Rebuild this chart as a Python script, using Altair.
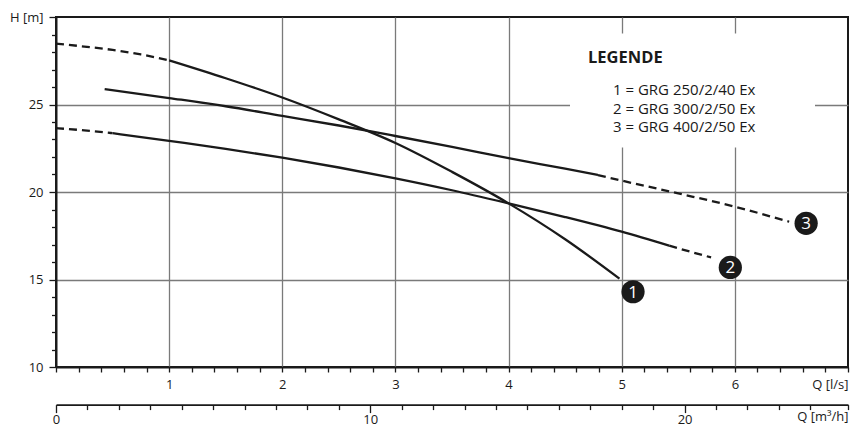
import altair as alt
import pandas as pd

# ---------------- data ----------------
# Curve 1: GRG 250/2/40 Ex
c1_dash_q = [0.0, 0.25, 0.5, 0.75, 1.0]
c1_dash_h = [28.48, 28.31, 28.12, 27.86, 27.52]
c1_solid_q = [1.0, 1.5, 2.0, 2.5, 3.0, 3.5, 4.0, 4.5, 4.98]
c1_solid_h = [27.52, 26.5, 25.4, 24.15, 22.8, 21.15, 19.35, 17.3, 15.05]

# Curve 2: GRG 300/2/50 Ex
c2_dash1_q = [0.0, 0.25, 0.5]
c2_dash1_h = [23.65, 23.52, 23.36]
c2_solid_q = [0.5, 1.0, 1.5, 2.0, 2.5, 3.0, 3.5, 4.0, 4.5, 5.0, 5.42]
c2_solid_h = [23.36, 22.92, 22.47, 21.96, 21.4, 20.78, 20.1, 19.35, 18.57, 17.73, 16.93]
c2_dash2_q = [5.42, 5.6, 5.79]
c2_dash2_h = [16.93, 16.6, 16.26]

# Curve 3: GRG 400/2/50 Ex
c3_solid_q = [0.43, 1.0, 1.5, 2.0, 2.5, 3.0, 3.5, 4.0, 4.5, 4.79]
c3_solid_h = [25.88, 25.37, 24.9, 24.35, 23.8, 23.2, 22.58, 21.93, 21.33, 20.97]
c3_dash_q = [4.79, 5.0, 5.5, 6.0, 6.48]
c3_dash_h = [20.97, 20.65, 19.92, 19.16, 18.3]

# numbered end markers
marker_q = [5.10, 5.96, 6.63]
marker_h = [14.3, 15.69, 18.21]
marker_labels = ["1", "2", "3"]

# axis ticks
lps_ticks = [round(i * 0.2, 1) for i in range(36)]          # 0 .. 7 l/s
m3h_ticks = list(range(0, 25)) + [25.2]                       # 0 .. 25.2 m3/h
h_ticks = list(range(10, 31))                                 # 10 .. 30 m

legend_title = "LEGENDE"
legend_lines = ["1 = GRG 250/2/40 Ex", "2 = GRG 300/2/50 Ex", "3 = GRG 400/2/50 Ex"]

# ---------------- build tables ----------------
segments = [
    ("c1d", "dash", c1_dash_q, c1_dash_h),
    ("c1s", "solid", c1_solid_q, c1_solid_h),
    ("c2d1", "dash", c2_dash1_q, c2_dash1_h),
    ("c2s", "solid", c2_solid_q, c2_solid_h),
    ("c2d2", "dash", c2_dash2_q, c2_dash2_h),
    ("c3s", "solid", c3_solid_q, c3_solid_h),
    ("c3d", "dash", c3_dash_q, c3_dash_h),
]
rows = []
for seg, style, qs, hs in segments:
    for i, (q, h) in enumerate(zip(qs, hs)):
        rows.append({"seg": seg, "style": style, "Q": q, "H": h, "o": i})
curves = pd.DataFrame(rows)
markers = pd.DataFrame({"Q": marker_q, "H": marker_h, "lab": marker_labels})

FONT = "Open Sans"
INK = "#1a1a1a"
GRID = "#7a7a7a"

x_axis = alt.Axis(
    title=None,
    values=lps_ticks,
    labelExpr="datum.value === 7 ? 'Q [l/s]' : (datum.value % 1 === 0 && datum.value > 0 ? '' + datum.value : '')",
    labelAlign={"condition": {"test": "datum.value === 7", "value": "right"}, "value": "center"},
    labelOverlap=False,
    labelFlush=False,
    labelPadding=6,
    tickSize=5,
    grid=True,
    gridOpacity={"condition": {"test": "datum.value % 1 === 0 && datum.value > 0 && datum.value < 7", "value": 1}, "value": 0},
)
y_axis = alt.Axis(
    title=None,
    values=h_ticks,
    labelExpr="datum.value === 30 ? 'H [m]' : (datum.value % 5 === 0 ? '' + datum.value : '')",
    labelOverlap=False,
    labelFlush=False,
    labelPadding=6,
    tickSize={"condition": {"test": "datum.value % 5 === 0", "value": 7}, "value": 4.5},
    grid=True,
    gridOpacity={"condition": {"test": "datum.value % 5 === 0 && datum.value > 10 && datum.value < 30", "value": 1}, "value": 0},
)

X = alt.X("Q:Q", scale=alt.Scale(domain=[0, 7], nice=False, zero=False), axis=x_axis)
Y = alt.Y("H:Q", scale=alt.Scale(domain=[10, 30], nice=False, zero=False), axis=y_axis)

base = alt.Chart(curves)
solid = base.transform_filter(alt.datum.style == "solid").mark_line(
    color=INK, strokeWidth=2.3, interpolate="monotone"
).encode(x=X, y=Y, detail="seg:N", order="o:Q")
dashed = base.transform_filter(alt.datum.style == "dash").mark_line(
    color=INK, strokeWidth=2.3, interpolate="monotone", strokeDash=[8, 5]
).encode(x=X, y=Y, detail="seg:N", order="o:Q")

mk = alt.Chart(markers)
dots = mk.mark_circle(size=540, color=INK, opacity=1).encode(x=X, y=Y)
dot_text = mk.mark_text(color="white", font=FONT, fontSize=17, baseline="middle", align="center", dy=1).encode(
    x=X, y=Y, text="lab:N"
)

legend_box = alt.Chart(pd.DataFrame({"a": [0]})).mark_rect(color="white").encode(
    x=alt.value(514), x2=alt.value(759), y=alt.value(16.6), y2=alt.value(130.6)
)
legend_head = alt.Chart(pd.DataFrame({"t": [legend_title]})).mark_text(
    font=FONT, fontSize=16.5, fontWeight="bold", color=INK, align="left", baseline="alphabetic"
).encode(text="t:N", x=alt.value(532), y=alt.value(45.9))
legend_texts = []
for i, line in enumerate(legend_lines):
    legend_texts.append(
        alt.Chart(pd.DataFrame({"t": [line]})).mark_text(
            font=FONT, fontSize=15, color=INK, align="left", baseline="alphabetic"
        ).encode(text="t:N", x=alt.value(557), y=alt.value(78.3 + i * 18.5))
    )

main = alt.layer(legend_box, solid, dashed, dots, dot_text, legend_head, *legend_texts)

m3_axis = alt.Axis(
    title=None,
    orient="bottom",
    offset=37.6,
    values=m3h_ticks,
    labelExpr="datum.value === 25.2 ? 'Q [m³/h]' : (datum.value % 10 === 0 ? '' + datum.value : '')",
    labelAlign={"condition": {"test": "datum.value === 25.2", "value": "right"}, "value": "center"},
    labelOverlap=False,
    labelFlush=False,
    labelPadding=1,
    tickSize={"condition": {"test": "datum.value % 10 === 0", "value": 8}, "value": 5},
    grid=False,
    domainWidth=1.6,
)
m3_layer = alt.Chart(pd.DataFrame({"qm": [0.0, 25.2]})).mark_point(opacity=0).encode(
    x=alt.X("qm:Q", scale=alt.Scale(domain=[0, 25.2], nice=False, zero=False), axis=m3_axis),
    y=alt.value(0),
)

chart = alt.layer(main, m3_layer).resolve_scale(x="independent").properties(
    width=792,
    height=350,
    padding={"left": 48, "top": 9, "right": 4, "bottom": 61},
    autosize=alt.AutoSizeParams(type="none"),
).configure_view(
    stroke=INK, strokeWidth=2
).configure_axis(
    domainColor=INK,
    domainWidth=2,
    tickColor=INK,
    tickWidth=1.3,
    labelFont=FONT,
    labelFontSize=13,
    labelColor=INK,
    gridColor=GRID,
    gridWidth=1.3,
)

chart.save("out.html", embed_options={"renderer": "svg", "actions": False})
